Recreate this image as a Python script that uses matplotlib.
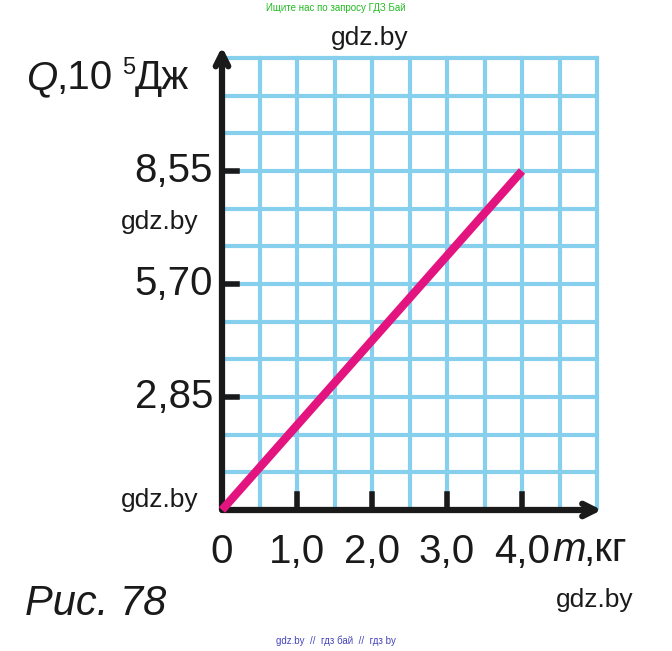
import numpy as np
import matplotlib.pyplot as plt

m = [0.0, 4.0]
Q = [0.0, 8.55]
x_ticks = [1.0, 2.0, 3.0, 4.0]
x_labels = ["1,0", "2,0", "3,0", "4,0"]
y_ticks = [2.85, 5.70, 8.55]
y_labels = ["2,85", "5,70", "8,55"]

plt.rcParams['font.family'] = ['Liberation Sans', 'DejaVu Sans']

fig = plt.figure(figsize=(6.72, 6.51), dpi=100)
ax = fig.add_axes([222 / 672, 141 / 651, 382.5 / 672, 460 / 651])
ax.set_xlim(0, 5.1)
ax.set_ylim(0, 11.6)

grid_blue = "#86d0ee"
for gx in np.arange(0.5, 5.01, 0.5):
    ax.plot([gx, gx], [0, 11.4], color=grid_blue, lw=3, zorder=1)
for gy in np.arange(0.95, 11.41, 0.95):
    ax.plot([0, 5.0], [gy, gy], color=grid_blue, lw=3, zorder=1)

ax.plot(m, Q, color="#e3147f", lw=6, solid_capstyle="butt", zorder=5, clip_on=False)

for s in ax.spines.values():
    s.set_visible(False)
ax.set_xticks([])
ax.set_yticks([])

# axes with open arrow heads
ax.annotate("", xy=(5.1, 0), xytext=(-0.03, 0),
            arrowprops=dict(arrowstyle="->,head_length=0.9,head_width=0.45",
                            color="#1a1a1a", lw=4.5), zorder=4, annotation_clip=False)
ax.annotate("", xy=(0, 11.75), xytext=(0, -0.07),
            arrowprops=dict(arrowstyle="->,head_length=0.9,head_width=0.45",
                            color="#1a1a1a", lw=4.5), zorder=4, annotation_clip=False)

for xt in x_ticks:
    ax.plot([xt, xt], [0, 0.4], color="#1a1a1a", lw=4, zorder=4)
for yt in y_ticks:
    ax.plot([0, 0.2], [yt, yt], color="#1a1a1a", lw=4, zorder=4)

fs = 29
for xt, lab in zip(x_ticks, x_labels):
    ax.text(xt, -1.05, lab, fontsize=fs, ha="center", va="center", color="#1a1a1a")
ax.text(0, -1.05, "0", fontsize=fs, ha="center", va="center", color="#1a1a1a")
for yt, lab in zip(y_ticks, y_labels):
    ax.text(-0.12, yt, lab, fontsize=fs, ha="right", va="center", color="#1a1a1a")

fig.text(26 / 672, 1 - 78 / 651, "Q", fontsize=fs, style="italic", va="center", color="#1a1a1a")
fig.text(56 / 672, 1 - 78 / 651, ",10", fontsize=fs, va="center", color="#1a1a1a")
fig.text(122 / 672, 1 - 68 / 651, "5", fontsize=17, va="center", color="#1a1a1a")
fig.text(135 / 672, 1 - 78 / 651, "Дж", fontsize=fs, va="center", color="#1a1a1a")
fig.text(552 / 672, 1 - 550 / 651, "m", fontsize=fs, style="italic", va="center", color="#1a1a1a")
fig.text(583 / 672, 1 - 550 / 651, ",кг", fontsize=fs, va="center", color="#1a1a1a")
fig.text(25 / 672, 1 - 604 / 651, "Рис. 78", fontsize=30, style="italic", va="center", color="#1a1a1a")

for (px, py) in [(370, 38), (160, 222), (160, 500), (595, 600)]:
    fig.text(px / 672, 1 - py / 651, "gdz.by", fontsize=19, ha="center", va="center", color="#1a1a1a")
fig.text(336 / 672, 1 - 8 / 651, "Ищите нас по запросу ГДЗ Бай", fontsize=7,
         ha="center", va="center", color="#22bb22")
fig.text(336 / 672, 1 - 641 / 651, "gdz.by  //  гдз бай  //  гдз by", fontsize=7,
         ha="center", va="center", color="#4444bb")

fig.savefig("out.png", dpi=100)
